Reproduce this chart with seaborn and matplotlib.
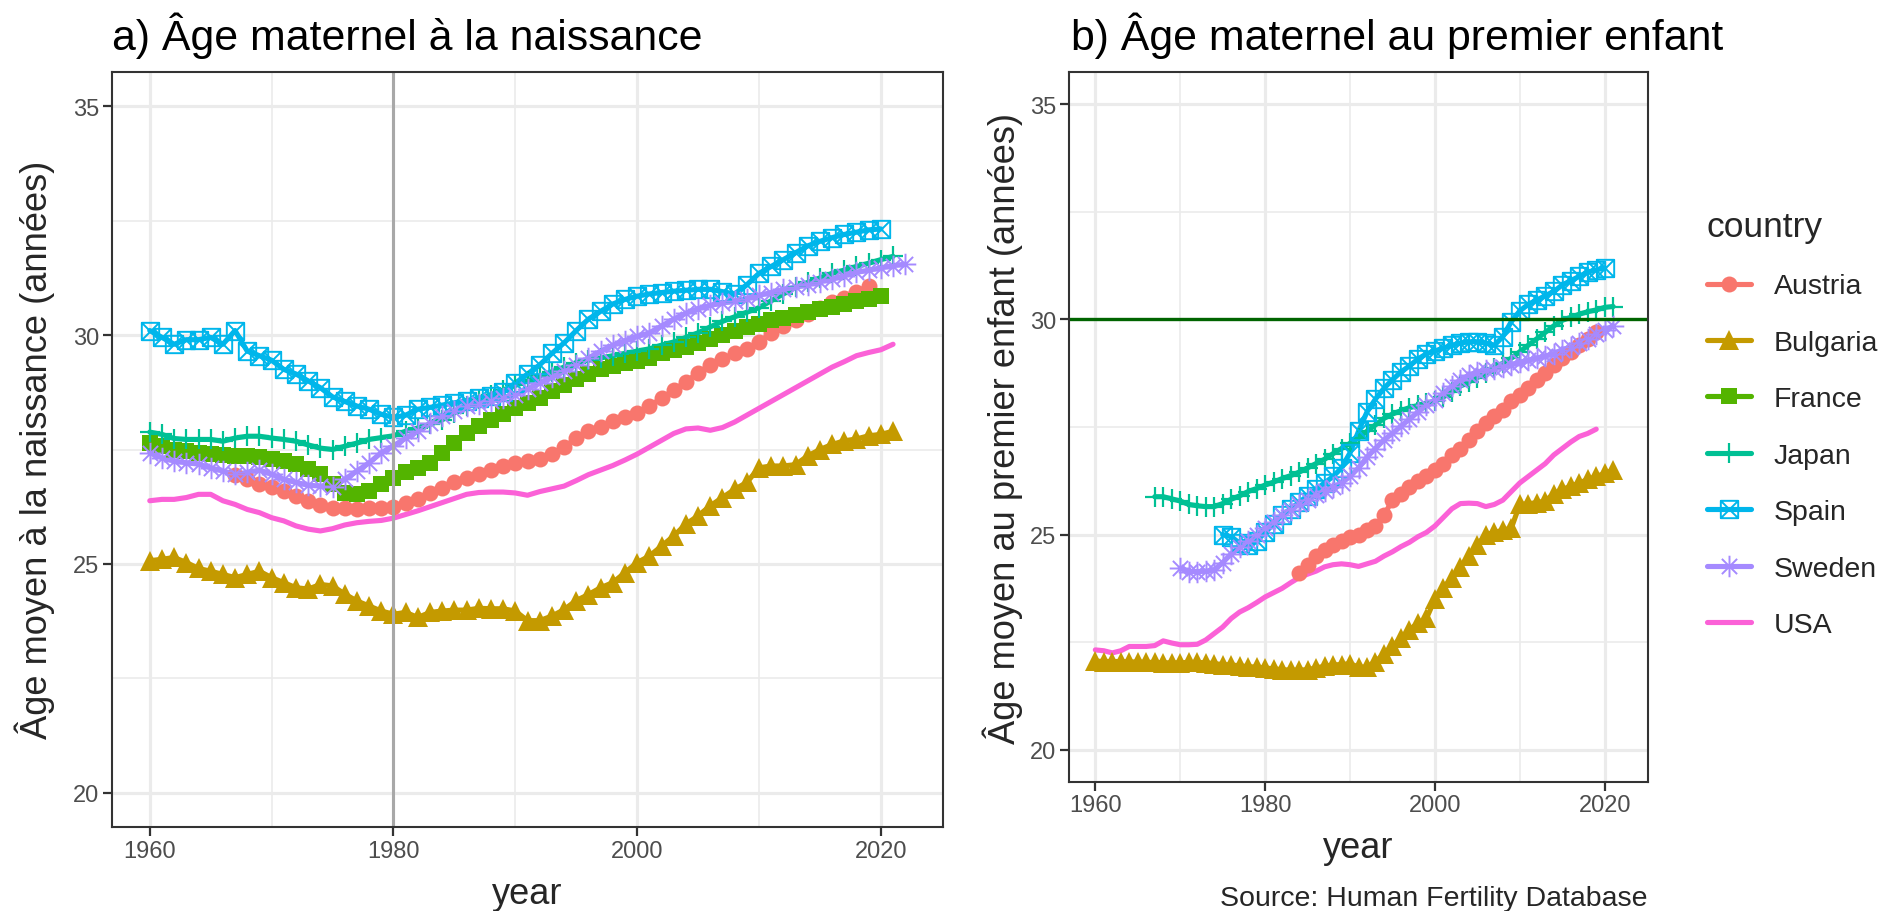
import numpy as np
import pandas as pd
import matplotlib
matplotlib.use("Agg")
import matplotlib.pyplot as plt
from matplotlib.path import Path
from matplotlib.lines import Line2D
import seaborn as sns

sns.set_theme(style="white")
plt.rcParams['font.family'] = ['Liberation Sans', 'DejaVu Sans']

countries = ["Austria", "Bulgaria", "France", "Japan", "Spain", "Sweden", "USA"]
colors = ["#F8766D", "#C49A00", "#53B400", "#00C094", "#00B6EB", "#A58AFF", "#FB61D7"]

# ---------------- Panel a : mean age at birth ----------------
austria_a_start = 1967
austria_a = [26.95, 26.85, 26.75, 26.67, 26.6, 26.48, 26.38, 26.28, 26.23, 26.22, 26.21, 26.22, 26.23,
             26.25, 26.32, 26.41, 26.55, 26.65, 26.78, 26.88, 26.97, 27.05, 27.13, 27.2, 27.25, 27.3, 27.4,
             27.55, 27.75, 27.9, 28.0, 28.12, 28.2, 28.3, 28.45, 28.62, 28.8, 28.98, 29.18, 29.35, 29.48,
             29.6, 29.7, 29.85, 30.05, 30.2, 30.33, 30.47, 30.6, 30.72, 30.82, 30.95, 31.07]
bulgaria_a_start = 1960
bulgaria_a = [25.07, 25.1, 25.14, 25.03, 24.9, 24.84, 24.77, 24.7, 24.77, 24.84, 24.7, 24.59, 24.48, 24.45,
              24.55, 24.52, 24.34, 24.19, 24.08, 23.97, 23.9, 23.94, 23.83, 23.94, 23.97, 23.99, 23.99, 24.03,
              24.02, 24.02, 23.97, 23.76, 23.76, 23.86, 24.0, 24.2, 24.33, 24.48, 24.59, 24.81, 25.03, 25.17,
              25.39, 25.61, 25.87, 26.05, 26.27, 26.45, 26.63, 26.78, 27.1, 27.14, 27.14, 27.17, 27.36, 27.5,
              27.61, 27.69, 27.73, 27.8, 27.83, 27.9]
france_a_start = 1960
france_a = [27.65, 27.58, 27.5, 27.47, 27.43, 27.4, 27.38, 27.36, 27.36, 27.34, 27.3, 27.25, 27.18, 27.07,
            26.96, 26.74, 26.56, 26.52, 26.6, 26.75, 26.88, 27.0, 27.1, 27.2, 27.43, 27.65, 27.85, 28.02,
            28.15, 28.28, 28.4, 28.52, 28.62, 28.78, 28.92, 29.05, 29.15, 29.25, 29.32, 29.4, 29.43, 29.5,
            29.6, 29.68, 29.75, 29.83, 29.92, 30.0, 30.08, 30.17, 30.25, 30.32, 30.38, 30.43, 30.5, 30.58,
            30.62, 30.68, 30.74, 30.8, 30.85]
japan_a_start = 1960
japan_a = [27.88, 27.83, 27.74, 27.72, 27.72, 27.72, 27.68, 27.75, 27.79, 27.79, 27.75, 27.72, 27.68, 27.6,
           27.53, 27.5, 27.57, 27.64, 27.72, 27.76, 27.8, 27.9, 27.97, 28.05, 28.15, 28.3, 28.45, 28.6,
           28.7, 28.8, 28.9, 29.0, 29.1, 29.2, 29.3, 29.4, 29.45, 29.5, 29.55, 29.6, 29.65, 29.7, 29.78,
           29.85, 29.95, 30.05, 30.18, 30.3, 30.4, 30.5, 30.6, 30.75, 30.9, 31.05, 31.15, 31.25, 31.35,
           31.42, 31.5, 31.57, 31.65, 31.72]
spain_a_start = 1960
spain_a = [30.1, 29.95, 29.8, 29.9, 29.9, 29.95, 29.8, 30.1, 29.65, 29.55, 29.45, 29.25, 29.15, 29.0,
           28.85, 28.65, 28.55, 28.45, 28.38, 28.27, 28.2, 28.25, 28.38, 28.42, 28.47, 28.52, 28.57, 28.62,
           28.68, 28.76, 28.95, 29.15, 29.35, 29.6, 29.83, 30.1, 30.35, 30.52, 30.68, 30.78, 30.85, 30.9,
           30.93, 30.96, 30.98, 31.0, 31.0, 30.95, 30.9, 31.1, 31.35, 31.5, 31.65, 31.8, 31.95, 32.05,
           32.13, 32.2, 32.25, 32.3, 32.32]
sweden_a_start = 1960
sweden_a = [27.43, 27.32, 27.25, 27.21, 27.18, 27.1, 27.03, 26.96, 27.0, 27.05, 26.96, 26.85, 26.78, 26.72,
            26.7, 26.67, 26.85, 27.03, 27.21, 27.43, 27.58, 27.75, 27.9, 28.07, 28.23, 28.35, 28.45, 28.5,
            28.56, 28.63, 28.7, 28.82, 28.96, 29.08, 29.21, 29.35, 29.5, 29.65, 29.78, 29.88, 29.97, 30.05,
            30.2, 30.35, 30.48, 30.58, 30.65, 30.7, 30.75, 30.8, 30.87, 30.93, 31.0, 31.05, 31.1, 31.17,
            31.22, 31.3, 31.37, 31.42, 31.47, 31.52, 31.55]
usa_a_start = 1960
usa_a = [26.38, 26.41, 26.41, 26.45, 26.52, 26.52, 26.38, 26.3, 26.19, 26.12, 26.01, 25.94, 25.83, 25.76,
         25.72, 25.77, 25.85, 25.9, 25.93, 25.95, 26.0, 26.08, 26.16, 26.25, 26.34, 26.43, 26.52, 26.56,
         26.57, 26.57, 26.55, 26.5, 26.58, 26.64, 26.7, 26.82, 26.95, 27.05, 27.15, 27.27, 27.4, 27.55,
         27.7, 27.85, 27.95, 27.97, 27.92, 27.98, 28.1, 28.25, 28.4, 28.55, 28.7, 28.85, 29.0, 29.15,
         29.3, 29.42, 29.55, 29.62, 29.68, 29.8]

# ---------------- Panel b : mean age at first birth ----------------
austria_b_start = 1984
austria_b = [24.1, 24.3, 24.5, 24.65, 24.75, 24.85, 24.95, 25.0, 25.1, 25.2, 25.45, 25.8, 25.95, 26.1,
             26.25, 26.35, 26.5, 26.65, 26.85, 27.0, 27.2, 27.4, 27.6, 27.75, 27.9, 28.1, 28.25, 28.4,
             28.6, 28.75, 28.95, 29.1, 29.25, 29.4, 29.55, 29.7]
bulgaria_b_start = 1960
bulgaria_b = [22.06, 22.05, 22.05, 22.05, 22.04, 22.04, 22.03, 22.03, 22.02, 22.02, 22.02, 22.03, 22.03,
              22.02, 22.0, 21.98, 21.97, 21.95, 21.93, 21.92, 21.9, 21.88, 21.86, 21.85, 21.85, 21.86,
              21.9, 21.94, 21.97, 21.98, 22.0, 21.92, 21.92, 22.05, 22.22, 22.4, 22.6, 22.78, 22.95, 23.05,
              23.5, 23.75, 24.0, 24.25, 24.5, 24.75, 25.0, 25.05, 25.1, 25.15, 25.7, 25.72, 25.74, 25.78,
              25.95, 26.05, 26.12, 26.2, 26.28, 26.35, 26.42, 26.5]
japan_b_start = 1967
japan_b = [25.88, 25.88, 25.83, 25.78, 25.7, 25.67, 25.65, 25.65, 25.72, 25.82, 25.9, 26.0, 26.07, 26.15,
           26.22, 26.3, 26.37, 26.45, 26.55, 26.65, 26.75, 26.88, 27.0, 27.12, 27.25, 27.4, 27.55, 27.7,
           27.8, 27.88, 27.95, 28.0, 28.05, 28.1, 28.2, 28.32, 28.45, 28.55, 28.65, 28.75, 28.88, 28.98,
           29.1, 29.25, 29.4, 29.55, 29.7, 29.85, 29.98, 30.05, 30.12, 30.18, 30.22, 30.28, 30.3]
spain_b_start = 1975
spain_b = [25.0, 24.95, 24.8, 24.75, 24.85, 25.05, 25.25, 25.45, 25.6, 25.75, 25.9, 26.05, 26.2, 26.35,
           26.55, 26.9, 27.4, 27.85, 28.15, 28.4, 28.6, 28.78, 28.92, 29.08, 29.2, 29.27, 29.33, 29.4,
           29.45, 29.48, 29.48, 29.45, 29.4, 29.6, 29.95, 30.2, 30.35, 30.45, 30.55, 30.65, 30.8, 30.9,
           31.0, 31.1, 31.15, 31.2]
sweden_b_start = 1970
sweden_b = [24.22, 24.14, 24.14, 24.15, 24.18, 24.35, 24.55, 24.72, 24.85, 25.0, 25.15, 25.3, 25.45,
            25.58, 25.7, 25.8, 25.92, 26.02, 26.1, 26.2, 26.35, 26.55, 26.8, 27.0, 27.2, 27.35, 27.52,
            27.68, 27.85, 28.0, 28.12, 28.28, 28.45, 28.6, 28.7, 28.78, 28.82, 28.85, 28.9, 28.95, 29.0,
            29.05, 29.1, 29.15, 29.2, 29.3, 29.35, 29.45, 29.55, 29.65, 29.75, 29.85]
usa_b_start = 1960
usa_b = [22.32, 22.3, 22.25, 22.3, 22.4, 22.4, 22.4, 22.42, 22.53, 22.48, 22.44, 22.44, 22.45, 22.55,
         22.7, 22.85, 23.05, 23.2, 23.3, 23.42, 23.55, 23.65, 23.75, 23.88, 24.0, 24.08, 24.15, 24.25,
         24.3, 24.32, 24.3, 24.26, 24.32, 24.38, 24.5, 24.6, 24.72, 24.82, 24.95, 25.05, 25.2, 25.4,
         25.6, 25.72, 25.73, 25.72, 25.65, 25.7, 25.8, 26.0, 26.2, 26.35, 26.5, 26.65, 26.85, 27.0,
         27.15, 27.28, 27.35, 27.45]

x_ticks = [1960, 1980, 2000, 2020]
y_ticks = [20, 25, 30, 35]
title_a = "a) Âge maternel à la naissance"
title_b = "b) Âge maternel au premier enfant"
ylab_a = "Âge moyen à la naissance (années)"
ylab_b = "Âge moyen au premier enfant (années)"
caption = "Source: Human Fertility Database"


def long_table(series):
    rows = []
    for name, (start, vals) in series.items():
        for i, v in enumerate(vals):
            rows.append((name, start + i, v))
    return pd.DataFrame(rows, columns=["country", "year", "age"])


df_a = long_table({
    "Austria": (austria_a_start, austria_a), "Bulgaria": (bulgaria_a_start, bulgaria_a),
    "France": (france_a_start, france_a), "Japan": (japan_a_start, japan_a),
    "Spain": (spain_a_start, spain_a), "Sweden": (sweden_a_start, sweden_a),
    "USA": (usa_a_start, usa_a)})
df_b = long_table({
    "Austria": (austria_b_start, austria_b), "Bulgaria": (bulgaria_b_start, bulgaria_b),
    "Japan": (japan_b_start, japan_b), "Spain": (spain_b_start, spain_b),
    "Sweden": (sweden_b_start, sweden_b), "USA": (usa_b_start, usa_b)})

# ggplot-like marker shapes
box_x = Path([(-1, -1), (1, -1), (1, 1), (-1, 1), (-1, -1), (-1, -1), (1, 1), (-1, 1), (1, -1)],
             [1, 2, 2, 2, 79, 1, 2, 1, 2])
s = 0.7071
aster = Path([(0, -1), (0, 1), (-1, 0), (1, 0), (-s, -s), (s, s), (-s, s), (s, -s)],
             [1, 2, 1, 2, 1, 2, 1, 2])

pal = dict(zip(countries, colors))
mk = {
    "Austria": dict(marker="o", markersize=11.5, markerfacecolor=pal["Austria"], markeredgecolor=pal["Austria"], markeredgewidth=0),
    "Bulgaria": dict(marker="^", markersize=14, markerfacecolor=pal["Bulgaria"], markeredgecolor=pal["Bulgaria"], markeredgewidth=0),
    "France": dict(marker="s", markersize=11.5, markerfacecolor=pal["France"], markeredgecolor=pal["France"], markeredgewidth=0),
    "Japan": dict(marker="+", markersize=15, markerfacecolor=pal["Japan"], markeredgecolor=pal["Japan"], markeredgewidth=1.6),
    "Spain": dict(marker=box_x, markersize=12.5, markerfacecolor="none", markeredgecolor=pal["Spain"], markeredgewidth=1.4),
    "Sweden": dict(marker=aster, markersize=15.5, markerfacecolor="none", markeredgecolor=pal["Sweden"], markeredgewidth=1.4),
}
LW = 3.7

W, H = 1888, 912
fig = plt.figure(figsize=(W / 100, H / 100), dpi=100)
fig.patch.set_facecolor("white")


def frac(l, t, r, b):
    return [l / W, 1 - b / H, (r - l) / W, (b - t) / H]


axA = fig.add_axes(frac(112, 73, 943, 828))
axB = fig.add_axes(frac(1069, 73, 1648, 783))

for ax, df in ((axA, df_a), (axB, df_b)):
    present = [c for c in countries if c in set(df["country"])]
    for c in present:
        d = df[df["country"] == c]
        sns.lineplot(data=d, x="year", y="age", ax=ax, color=pal[c], linewidth=LW,
                     errorbar=None, legend=False, zorder=3)
    for c in present:
        if c not in mk:
            continue
        d = df[df["country"] == c]
        sns.lineplot(data=d, x="year", y="age", ax=ax, color=pal[c], linestyle="none",
                     errorbar=None, legend=False, zorder=4, **mk[c])

    ax.set_xlim(1956.9, 2025.1)
    ax.set_ylim(19.25, 35.75)
    ax.set_xticks(x_ticks)
    ax.set_xticks([1970, 1990, 2010], minor=True)
    ax.set_yticks(y_ticks)
    ax.set_yticks([22.5, 27.5, 32.5], minor=True)
    ax.grid(which="major", color="#EBEBEB", linewidth=2.3)
    ax.grid(which="minor", color="#EBEBEB", linewidth=1.2)
    ax.set_axisbelow(True)
    ax.tick_params(which="minor", length=0)
    ax.tick_params(which="major", length=6.5, width=1.6, color="#333333",
                   labelsize=17, labelcolor="#4D4D4D", pad=2.5)
    ax.tick_params(axis="x", which="major", bottom=True)
    ax.tick_params(axis="y", which="major", left=True)
    for sp in ax.spines.values():
        sp.set_visible(True)
        sp.set_color("#333333")
        sp.set_linewidth(1.5)
        sp.set_zorder(10)
    ax.set_xlabel("")
    ax.set_ylabel("")

axA.axvline(1980, color="#A8A8A8", linewidth=2.2, zorder=6)
axB.axhline(30, color="#006400", linewidth=2.4, zorder=6)

# titles and labels
fig.text(112 / W, 1 - 36 / H, title_a, fontsize=30.8, ha="left", va="center", color="black")
fig.text(1071 / W, 1 - 36 / H, title_b, fontsize=30.8, ha="left", va="center", color="black")
fig.text(35 / W, 1 - 450 / H, ylab_a, fontsize=26.1, rotation=90, ha="center", va="center")
fig.text(1003 / W, 1 - 428 / H, ylab_b, fontsize=26.1, rotation=90, ha="center", va="center")
fig.text(527 / W, 1 - 895 / H, "year", fontsize=26.1, ha="center", va="center")
fig.text(1358 / W, 1 - 849 / H, "year", fontsize=26.1, ha="center", va="center")
fig.text(1648 / W, 1 - 899 / H, caption, fontsize=20.5, ha="right", va="center")

# legend
handles = []
for c in countries:
    kw = mk.get(c, dict(marker=None))
    handles.append(Line2D([], [], color=pal[c], linewidth=LW, **kw))
leg = fig.legend(handles, countries, title="country", loc="upper left",
                 bbox_to_anchor=(1707 / W, 1 - 211 / H), frameon=False,
                 fontsize=20.5, title_fontsize=25.5, handlelength=1.55, handletextpad=0.8,
                 labelspacing=1.07, alignment="left", borderaxespad=0, borderpad=0)

fig.savefig("out.png", dpi=100, facecolor="white")
